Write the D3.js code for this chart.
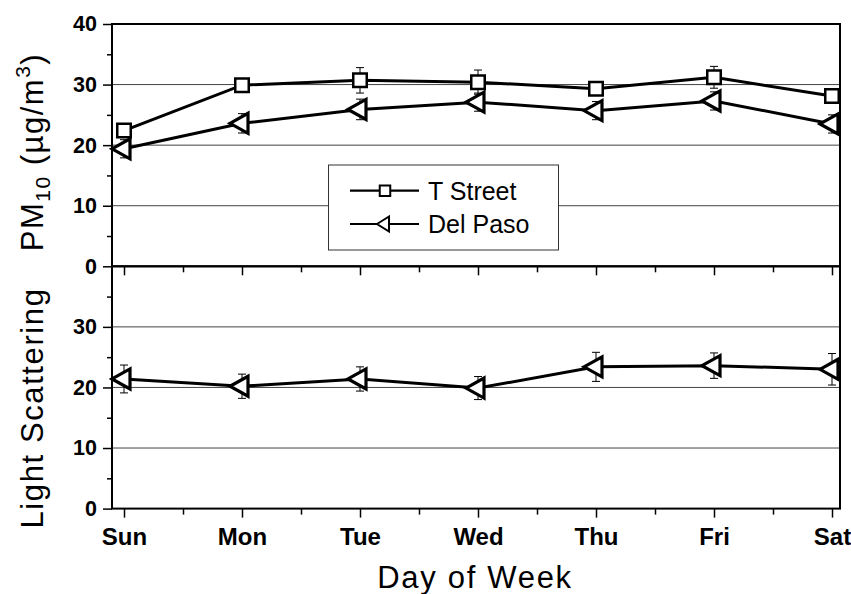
<!DOCTYPE html>
<html>
<head>
<meta charset="utf-8">
<script src="https://cdn.jsdelivr.net/npm/d3@7"></script>
<style>
  html, body { margin: 0; padding: 0; background: #fff; }
  svg { display: block; font-family: "Liberation Sans", Arial, sans-serif; }
</style>
</head>
<body>
<svg id="chart" width="851" height="594"></svg>
<script>
// ---------------- data ----------------
const days = ["Sun", "Mon", "Tue", "Wed", "Thu", "Fri", "Sat"];
const tStreet    = [22.4, 29.9, 30.7, 30.4, 29.3, 31.2, 28.1];
const tStreetErr = [1.0, 1.0, 2.1, 2.0, 1.0, 1.8, 1.0];
const delPaso    = [19.4, 23.6, 25.9, 27.1, 25.7, 27.3, 23.5];
const delPasoErr = [1.5, 1.6, 1.7, 1.5, 1.5, 1.5, 1.5];
const lightScat    = [21.4, 20.2, 21.4, 19.9, 23.4, 23.6, 23.0];
const lightScatErr = [2.3, 2.0, 2.0, 1.9, 2.4, 2.1, 2.6];
const topTicks = [0, 10, 20, 30, 40];
const botTicks = [0, 10, 20, 30];
const minorTicks = [5, 15, 25, 35];
const gridValues = [10, 20, 30];
const legendLabels = ["T Street", "Del Paso"];

// ---------------- layout ----------------
const svg = d3.select("#chart");
const left = 112, right = 840;
const topY0 = 24, midY = 266.3, botY1 = 508.6;

const x = d3.scaleLinear().domain([0, 6]).range([124, 832]);
const xMinor = d3.range(0.5, 6, 1);
const yTop = d3.scaleLinear().domain([0, 40]).range([midY, topY0]);
const yBot = d3.scaleLinear().domain([0, 40]).range([botY1, midY]);

svg.append("rect").attr("width", 851).attr("height", 594).attr("fill", "#fff");

// grid lines
function grid(y) {
  svg.append("g").selectAll("line").data(gridValues).join("line")
    .attr("x1", left).attr("x2", right)
    .attr("y1", d => y(d)).attr("y2", d => y(d))
    .attr("stroke", "#444").attr("stroke-width", 1);
}
grid(yTop);
grid(yBot);

function styleAxis(g, size) {
  g.selectAll(".domain").remove();
  g.selectAll(".tick line").attr("stroke", "#000").attr("stroke-width", 1.5);
  g.selectAll("text").attr("font-size", size).attr("font-weight", "bold")
    .attr("fill", "#000").attr("font-family", "Liberation Sans, Arial, sans-serif");
}

// y axes
function yAxis(y, ticks) {
  const gMaj = svg.append("g").attr("transform", `translate(${left},0)`)
    .call(d3.axisLeft(y).tickValues(ticks).tickSize(9).tickPadding(6).tickFormat(d3.format("d")));
  styleAxis(gMaj, 21.5);
  const gMin = svg.append("g").attr("transform", `translate(${left},0)`)
    .call(d3.axisLeft(y).tickValues(minorTicks).tickSize(5).tickFormat(""));
  styleAxis(gMin, 21.5);
}
yAxis(yTop, topTicks);
yAxis(yBot, botTicks);

// x axes
function xAxis(yPos, labels) {
  const gMaj = svg.append("g").attr("transform", `translate(0,${yPos})`)
    .call(d3.axisBottom(x).tickValues(d3.range(7)).tickSize(9).tickPadding(10)
      .tickFormat(labels ? (i => days[i]) : ""));
  styleAxis(gMaj, 24);
  const gMin = svg.append("g").attr("transform", `translate(0,${yPos})`)
    .call(d3.axisBottom(x).tickValues(xMinor).tickSize(6).tickFormat(""));
  styleAxis(gMin, 24);
}
xAxis(midY, false);
xAxis(botY1, true);

// frames
svg.append("rect").attr("x", left).attr("y", topY0).attr("width", right - left)
  .attr("height", midY - topY0).attr("fill", "none").attr("stroke", "#000").attr("stroke-width", 2);
svg.append("rect").attr("x", left).attr("y", midY).attr("width", right - left)
  .attr("height", botY1 - midY).attr("fill", "none").attr("stroke", "#000").attr("stroke-width", 2);

// markers
const sq = s => `M${-s/2},${-s/2}H${s/2}V${s/2}H${-s/2}Z`;
const tri = (w, h) => `M${-w*2/3},0L${w/3},${-h/2}L${w/3},${h/2}Z`;

function series(y, vals, errs, shape) {
  const g = svg.append("g");
  g.append("path").datum(vals)
    .attr("d", d3.line().x((d, i) => x(i)).y(d => y(d)))
    .attr("fill", "none").attr("stroke", "#000").attr("stroke-width", 3);
  const eb = g.append("g").selectAll("g").data(vals).join("g");
  eb.append("line").attr("x1", (d, i) => x(i)).attr("x2", (d, i) => x(i))
    .attr("y1", (d, i) => y(d + errs[i])).attr("y2", (d, i) => y(d - errs[i]))
    .attr("stroke", "#000").attr("stroke-width", 1);
  [1, -1].forEach(sgn => {
    eb.append("line").attr("x1", (d, i) => x(i) - 4).attr("x2", (d, i) => x(i) + 4)
      .attr("y1", (d, i) => y(d + sgn * errs[i])).attr("y2", (d, i) => y(d + sgn * errs[i]))
      .attr("stroke", "#000").attr("stroke-width", 1);
  });
  g.append("g").selectAll("path").data(vals).join("path")
    .attr("transform", (d, i) => `translate(${x(i)},${y(d)})`)
    .attr("d", shape === "sq" ? sq(13.5) : tri(18, 20))
    .attr("fill", "#fff").attr("stroke", "#000")
    .attr("stroke-width", shape === "sq" ? 2.5 : 3.2);
}
series(yTop, tStreet, tStreetErr, "sq");
series(yTop, delPaso, delPasoErr, "tri");
series(yBot, lightScat, lightScatErr, "tri");

// legend
const lg = svg.append("g");
lg.append("rect").attr("x", 328.5).attr("y", 165).attr("width", 230).attr("height", 85)
  .attr("fill", "#fff").attr("stroke", "#333").attr("stroke-width", 1);
legendLabels.forEach((lab, k) => {
  const cy = k === 0 ? 190.7 : 224;
  lg.append("line").attr("x1", 350).attr("x2", 419).attr("y1", cy).attr("y2", cy)
    .attr("stroke", "#000").attr("stroke-width", 2.2);
  lg.append("path").attr("transform", `translate(385,${cy})`)
    .attr("d", k === 0 ? sq(10.5) : tri(12, 15))
    .attr("fill", "#fff").attr("stroke", "#000").attr("stroke-width", 2);
  lg.append("text").attr("x", 428).attr("y", cy + 8.8).attr("font-size", 25)
    .attr("fill", "#000").text(lab);
});

// titles
svg.append("text").attr("x", 475).attr("y", 588).attr("text-anchor", "middle")
  .attr("font-size", 31).attr("letter-spacing", 1.7).attr("fill", "#000").text("Day of Week");

svg.append("text").attr("transform", "translate(43,408) rotate(-90)")
  .attr("text-anchor", "middle").attr("font-size", 31).attr("letter-spacing", 1.6)
  .attr("fill", "#000").text("Light Scattering");

const t1 = svg.append("text").attr("transform", "translate(43,152) rotate(-90)")
  .attr("text-anchor", "middle").attr("font-size", 31).attr("letter-spacing", 1.5).attr("fill", "#000");
t1.append("tspan").text("PM");
t1.append("tspan").attr("font-size", 21).attr("dy", 7).text("10");
t1.append("tspan").attr("dy", -7).text("\u00a0(\u00b5g/m");
t1.append("tspan").attr("font-size", 21).attr("dy", -13).text("3");
t1.append("tspan").attr("dy", 13).text(")");
</script>
</body>
</html>
